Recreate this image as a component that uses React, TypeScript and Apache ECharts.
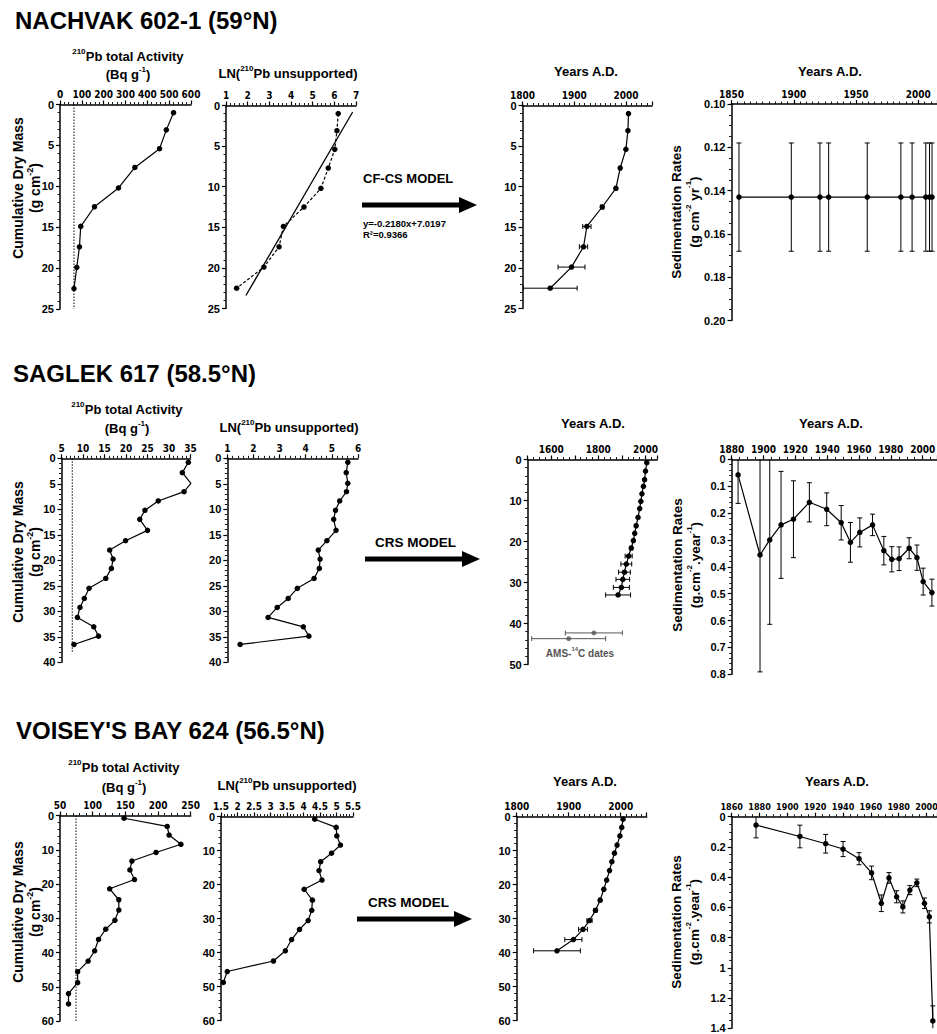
import React, { useEffect, useRef } from "react";
import * as echarts from "echarts";

const FONT = '"Liberation Sans", Arial, Helvetica, sans-serif';
const NARROW = '"Liberation Sans Narrow", "Arial Narrow", "DejaVu Sans Condensed", "Liberation Sans", sans-serif';

// ---------- NACHVAK 602-1 (59°N) ----------
const nachvakDepth = [1.0, 3.1, 5.4, 7.7, 10.2, 12.5, 14.9, 17.4, 19.9, 22.5];
const nachvakActivity = [520, 487, 456, 343, 268, 158, 95, 89, 77, 64];
const nachvakSupported = 64;
const nachvakLn = [6.18, 6.12, 6.02, 5.72, 5.38, 4.6, 3.65, 3.45, 2.75, 1.49];
const nachvakFitSlope = -0.218;
const nachvakFitIntercept = 7.0197;
const nachvakFitDepths = [0.8, 23.4];
const nachvakYears = [2004.6, 2003.5, 1999.6, 1988.6, 1980.3, 1953.9, 1924.3, 1917.8, 1894.6, 1853.5];
const nachvakYearErr = [1, 1, 1, 2, 2, 3, 8, 8, 26, 52];
const nachvakRateYears = [1856, 1898, 1921, 1928, 1959, 1986, 1995, 2006, 2009, 2011];
const nachvakRates = [0.143, 0.143, 0.143, 0.143, 0.143, 0.143, 0.143, 0.143, 0.143, 0.143];
const nachvakRateErr = [0.025, 0.025, 0.025, 0.025, 0.025, 0.025, 0.025, 0.025, 0.025, 0.025];

// ---------- SAGLEK 617 (58.5°N) ----------
const saglekDepth = [0.79, 2.81, 4.91, 6.54, 8.37, 10.2, 11.97, 14.13, 16.16, 17.99, 19.76, 21.59, 23.55, 25.5, 27.48, 29.24, 31.2, 33.04, 34.87, 36.5];
const saglekActivity = [34.5, 33.1, 35.1, 33.5, 27.5, 24.4, 23.2, 25.0, 19.9, 16.2, 17.0, 16.6, 15.3, 11.4, 10.3, 9.3, 8.7, 12.5, 13.6, 7.9];
const saglekSupported = 7.5;
const saglekLn = [5.61, 5.55, 5.61, 5.56, 5.3, 5.14, 5.07, 5.16, 4.81, 4.48, 4.55, 4.52, 4.32, 3.68, 3.33, 2.91, 2.56, 3.91, 4.12, 1.49];
const saglekYears = [2005.8, 2000.3, 1996.4, 1991.5, 1985.2, 1980.6, 1975.6, 1968.5, 1960.5, 1954.6, 1948.8, 1939.7, 1928.8, 1918.8, 1911, 1903.9, 1897.8, 1884];
const saglekYearErr = [1, 1, 1, 1, 1, 2, 2, 2, 3, 3, 4, 6, 15, 23, 25, 29, 34, 53];
const saglekAmsYears = [1781, 1674];
const saglekAmsDepth = [42.3, 43.7];
const saglekAmsErr = [121, 157];
const saglekRateYears = [1884, 1897.8, 1903.9, 1911, 1918.8, 1928.8, 1939.7, 1948.8, 1954.6, 1960.5, 1968.5, 1975.6, 1980.6, 1985.2, 1991.5, 1996.4, 2000.3, 2005.8];
const saglekRates = [0.058, 0.356, 0.3, 0.244, 0.223, 0.16, 0.186, 0.236, 0.309, 0.272, 0.244, 0.34, 0.372, 0.37, 0.331, 0.366, 0.455, 0.496];
const saglekRateErr = [0.106, 0.435, 0.314, 0.199, 0.143, 0.073, 0.061, 0.064, 0.074, 0.054, 0.04, 0.053, 0.047, 0.044, 0.039, 0.047, 0.05, 0.05];

// ---------- VOISEY'S BAY 624 (56.5°N) ----------
const voiseyDepth = [0.8, 3.2, 5.7, 8.4, 10.8, 13.3, 15.9, 18.7, 21.4, 24.6, 27.6, 30.6, 33.2, 36.2, 39.5, 42.5, 45.6, 48.8, 52.0, 55.0];
const voiseyActivity = [148, 214, 217, 235, 197, 160, 157, 164, 126, 140, 140, 134, 120, 109, 103, 93, 77, 77, 63, 63];
const voiseySupported = 74.5;
const voiseyLn = [4.34, 4.99, 5.01, 5.12, 4.85, 4.52, 4.47, 4.56, 4.02, 4.27, 4.25, 4.14, 3.88, 3.64, 3.45, 3.09, 1.69, 1.57];
const voiseyYears = [2004.5, 2002, 1998.5, 1993, 1988, 1983, 1978.5, 1973, 1967.5, 1960.5, 1951.5, 1940, 1927.5, 1909, 1877.5];
const voiseyYearErr = [1, 1, 1, 1, 1, 1, 1, 1, 2, 2, 3, 5, 8.5, 16.5, 45];
const voiseyRateYears = [1877.5, 1909, 1927.5, 1940, 1951.5, 1960.5, 1967.5, 1973, 1978.5, 1983, 1988, 1993, 1998.5, 2002, 2004.5];
const voiseyRates = [0.055, 0.131, 0.179, 0.214, 0.278, 0.372, 0.573, 0.405, 0.53, 0.597, 0.486, 0.438, 0.573, 0.663, 1.352];
const voiseyRateErr = [0.085, 0.075, 0.062, 0.05, 0.04, 0.045, 0.055, 0.035, 0.04, 0.04, 0.03, 0.025, 0.035, 0.04, 0.1];

// ---------- helpers ----------
const zip = (a: number[], b: number[]) => a.map((v, i) => [v, b[i]]);
const zip3 = (a: number[], b: number[], c: number[]) => a.map((v, i) => [v, b[i], c[i]]);
const num = (v: number) => String(Math.round(v * 1000) / 1000);

type AxCfg = { min: number; max: number; interval: number; minor: number; fmt?: (v: number) => string; showMax?: boolean; size?: number };

function makeAxis(gi: number, isX: boolean, c: AxCfg) {
  return {
    type: "value",
    gridIndex: gi,
    position: isX ? "top" : "left",
    inverse: !isX,
    min: c.min,
    max: c.max,
    interval: c.interval,
    axisLine: { show: true, onZero: false, lineStyle: { color: "#000", width: 1.5 } },
    axisTick: { show: true, length: 4, lineStyle: { color: "#000", width: 1.2 } },
    minorTick: { show: true, splitNumber: c.minor, length: 2.5, lineStyle: { color: "#000", width: 0.9 } },
    splitLine: { show: false },
    minorSplitLine: { show: false },
    axisLabel: {
      show: true,
      color: "#000",
      fontFamily: isX ? NARROW : FONT,
      fontWeight: "bold",
      fontSize: c.size || (isX ? 10 : 11),
      margin: isX ? 5 : 6,
      formatter: c.fmt || num,
      showMaxLabel: c.showMax !== false,
      showMinLabel: true,
      hideOverlap: false,
    },
  };
}

function lineSeries(gi: number, data: number[][], extra: any = {}) {
  return {
    type: "line",
    xAxisIndex: gi,
    yAxisIndex: gi,
    data,
    symbol: "circle",
    symbolSize: 5.5,
    itemStyle: { color: "#000" },
    lineStyle: { color: "#000", width: 1.2 },
    silent: true,
    z: 3,
    ...extra,
  };
}

function refLine(gi: number, data: number[][], type: any, width = 1) {
  return {
    type: "line",
    xAxisIndex: gi,
    yAxisIndex: gi,
    data,
    symbol: "none",
    lineStyle: { color: "#000", width, type },
    silent: true,
    z: 2,
  };
}

function errSeries(gi: number, data: number[][], dir: "h" | "v", lo: number, hi: number, color = "#000") {
  return {
    type: "custom",
    xAxisIndex: gi,
    yAxisIndex: gi,
    data,
    dimensions: ["x", "y", "e"],
    encode: { x: 0, y: 1 },
    silent: true,
    z: 2,
    renderItem: (_p: any, api: any) => {
      const x = api.value(0);
      const y = api.value(1);
      const e = api.value(2);
      const cap = 2.5;
      const style = { stroke: color, lineWidth: 1 };
      const ch: any[] = [];
      if (dir === "h") {
        const a = Math.max(x - e, lo);
        const b = Math.min(x + e, hi);
        const p1 = api.coord([a, y]);
        const p2 = api.coord([b, y]);
        ch.push({ type: "line", shape: { x1: p1[0], y1: p1[1], x2: p2[0], y2: p2[1] }, style });
        if (a > lo) ch.push({ type: "line", shape: { x1: p1[0], y1: p1[1] - cap, x2: p1[0], y2: p1[1] + cap }, style });
        if (b < hi) ch.push({ type: "line", shape: { x1: p2[0], y1: p2[1] - cap, x2: p2[0], y2: p2[1] + cap }, style });
      } else {
        const a = Math.max(y - e, lo);
        const b = Math.min(y + e, hi);
        const p1 = api.coord([x, a]);
        const p2 = api.coord([x, b]);
        ch.push({ type: "line", shape: { x1: p1[0], y1: p1[1], x2: p2[0], y2: p2[1] }, style });
        if (a > lo) ch.push({ type: "line", shape: { x1: p1[0] - cap, y1: p1[1], x2: p1[0] + cap, y2: p1[1] }, style });
        if (b < hi) ch.push({ type: "line", shape: { x1: p2[0] - cap, y1: p2[1], x2: p2[0] + cap, y2: p2[1] }, style });
      }
      return { type: "group", children: ch };
    },
  };
}

// ---------- text helpers ----------
const RICH = (size: number, color = "#000") => ({
  n: { fontSize: size, fontWeight: "bold", fontFamily: FONT, lineHeight: size + 5, fill: color, color },
  s: { fontSize: Math.round(size * 0.62), fontWeight: "bold", fontFamily: FONT, lineHeight: Math.round(size * 0.62) + 1, verticalAlign: "top", fill: color, color },
});

function txt(x: number, y: number, text: string, size: number, opts: any = {}) {
  return {
    type: "text",
    x,
    y,
    rotation: opts.rotation || 0,
    silent: true,
    style: {
      text,
      fill: opts.color || "#000",
      fontFamily: FONT,
      fontWeight: "bold",
      fontSize: size,
      align: opts.align || "center",
      verticalAlign: "middle",
      rich: RICH(size, opts.color || "#000"),
    },
  };
}

function arrow(x0: number, x1: number, y: number) {
  return [
    { type: "rect", shape: { x: x0, y: y - 2.5, width: x1 - 18 - x0 + 1, height: 5 }, style: { fill: "#000" }, silent: true },
    { type: "polygon", shape: { points: [[x1 - 18, y - 8], [x1, y], [x1 - 18, y + 8]] }, style: { fill: "#000" }, silent: true },
  ];
}

const ROT = Math.PI / 2;

export default function App() {
  const ref = useRef<HTMLDivElement>(null);
  useEffect(() => {
    if (!ref.current) return;
    const chart = echarts.init(ref.current, null, { renderer: "svg", width: 937, height: 1034 });

    const grids = [
      { left: 60, top: 104.5, width: 131, height: 204.5 },
      { left: 226, top: 105.5, width: 130, height: 203 },
      { left: 522.5, top: 105.5, width: 129.5, height: 203 },
      { left: 731.5, top: 104, width: 205.5, height: 216.5 },
      { left: 61.5, top: 458.3, width: 129, height: 204 },
      { left: 227.3, top: 458.3, width: 130.7, height: 204 },
      { left: 527.7, top: 459.5, width: 129.5, height: 205 },
      { left: 731.7, top: 459.3, width: 205.3, height: 215 },
      { left: 60, top: 815.5, width: 130.7, height: 205.5 },
      { left: 221, top: 816.5, width: 132, height: 204 },
      { left: 516.7, top: 816.5, width: 130, height: 204 },
      { left: 731.7, top: 816.7, width: 205.3, height: 211.5 },
    ].map((g) => ({ ...g, containLabel: false, outerBoundsMode: "none", show: false }));

    const yr = (v: number) => String(Math.round(v));
    const xCfg: AxCfg[] = [
      { min: 0, max: 600, interval: 100, minor: 5 },
      { min: 1, max: 7, interval: 1, minor: 5 },
      { min: 1800, max: 2050, interval: 100, minor: 10, fmt: yr, showMax: false },
      { min: 1850, max: 2015, interval: 50, minor: 10, fmt: yr, showMax: false },
      { min: 5, max: 35, interval: 5, minor: 5 },
      { min: 1, max: 6, interval: 1, minor: 5 },
      { min: 1500, max: 2050, interval: 100, minor: 4, fmt: (v) => (Math.round(v) % 200 === 0 ? String(Math.round(v)) : ""), showMax: false },
      { min: 1880, max: 2009, interval: 20, minor: 4, fmt: yr, showMax: false },
      { min: 50, max: 250, interval: 50, minor: 5 },
      { min: 1.5, max: 5.5, interval: 0.5, minor: 5 },
      { min: 1800, max: 2050, interval: 100, minor: 10, fmt: yr, showMax: false },
      { min: 1860, max: 2007.5, interval: 20, minor: 4, fmt: yr, showMax: false, size: 9 },
    ];
    const yCfg: AxCfg[] = [
      { min: 0, max: 25, interval: 5, minor: 5 },
      { min: 0, max: 25, interval: 5, minor: 5 },
      { min: 0, max: 25, interval: 5, minor: 5 },
      { min: 0.1, max: 0.2, interval: 0.02, minor: 4, fmt: (v) => v.toFixed(2) },
      { min: 0, max: 40, interval: 5, minor: 5 },
      { min: 0, max: 40, interval: 5, minor: 5 },
      { min: 0, max: 50, interval: 10, minor: 5 },
      { min: 0, max: 0.8, interval: 0.1, minor: 5 },
      { min: 0, max: 60, interval: 10, minor: 5 },
      { min: 0, max: 60, interval: 10, minor: 5 },
      { min: 0, max: 60, interval: 10, minor: 5 },
      { min: 0, max: 1.4, interval: 0.2, minor: 4 },
    ];

    const fitData = nachvakFitDepths.map((d) => [nachvakFitIntercept + nachvakFitSlope * d, d]);

    const series: any[] = [
      // Row 1
      refLine(0, [[nachvakSupported, 0], [nachvakSupported, 25]], [1.5, 1.5]),
      lineSeries(0, zip(nachvakActivity, nachvakDepth)),
      lineSeries(1, zip(nachvakLn, nachvakDepth), { lineStyle: { color: "#000", width: 1.2, type: [3, 2] } }),
      refLine(1, fitData, "solid", 1.3),
      errSeries(2, zip3(nachvakYears, nachvakDepth, nachvakYearErr), "h", 1800, 2050),
      lineSeries(2, zip(nachvakYears, nachvakDepth)),
      errSeries(3, zip3(nachvakRateYears, nachvakRates, nachvakRateErr), "v", 0.1, 0.2),
      lineSeries(3, zip(nachvakRateYears, nachvakRates)),
      // Row 2
      refLine(4, [[saglekSupported, 0], [saglekSupported, 38]], [1.5, 1.5]),
      lineSeries(4, zip(saglekActivity, saglekDepth)),
      lineSeries(5, zip(saglekLn, saglekDepth)),
      errSeries(6, zip3(saglekYears, saglekDepth, saglekYearErr), "h", 1500, 2050),
      lineSeries(6, zip(saglekYears, saglekDepth)),
      errSeries(6, zip3(saglekAmsYears, saglekAmsDepth, saglekAmsErr), "h", 1500, 2050, "#555"),
      {
        type: "scatter",
        xAxisIndex: 6,
        yAxisIndex: 6,
        data: zip(saglekAmsYears, saglekAmsDepth),
        symbol: "circle",
        symbolSize: 5,
        itemStyle: { color: "#555" },
        silent: true,
        z: 3,
      },
      errSeries(7, zip3(saglekRateYears, saglekRates, saglekRateErr), "v", 0, 0.8),
      lineSeries(7, zip(saglekRateYears, saglekRates)),
      // Row 3
      refLine(8, [[voiseySupported, 0], [voiseySupported, 60]], [1.5, 1.5]),
      lineSeries(8, zip(voiseyActivity, voiseyDepth)),
      lineSeries(9, zip(voiseyLn, voiseyDepth)),
      errSeries(10, zip3(voiseyYears, voiseyDepth, voiseyYearErr), "h", 1800, 2050),
      lineSeries(10, zip(voiseyYears, voiseyDepth)),
      errSeries(11, zip3(voiseyRateYears, voiseyRates, voiseyRateErr), "v", 0, 1.4),
      lineSeries(11, zip(voiseyRateYears, voiseyRates)),
    ];

    const graphics: any[] = [
      // Row 1
      txt(15, 20, "NACHVAK 602-1 (59°N)", 24, { align: "left" }),
      txt(128, 56, "{s|210}{n|Pb total Activity}", 13),
      txt(128, 74, "{n|(Bq g}{s|-1}{n|)}", 13),
      txt(288, 73, "{n|LN(}{s|210}{n|Pb unsupported)}", 13),
      txt(586, 71, "Years A.D.", 13),
      txt(830, 71, "Years A.D.", 13),
      txt(363, 178, "CF-CS MODEL", 13, { align: "left" }),
      ...arrow(362, 477, 205),
      txt(363, 223, "y=-0.2180x+7.0197", 9.5, { align: "left" }),
      txt(363, 234.5, "R²=0.9366", 9.5, { align: "left" }),
      txt(18, 188, "Cumulative Dry Mass", 14, { rotation: ROT }),
      txt(35, 188, "{n|(g cm}{s|-2}{n|)}", 14, { rotation: ROT }),
      txt(676, 212, "Sedimentation Rates", 13.5, { rotation: ROT }),
      txt(694, 212, "{n|(g cm}{s|-2}{n| yr}{s|-1}{n|)}", 13.5, { rotation: ROT }),
      // Row 2
      txt(13, 373, "SAGLEK 617 (58.5°N)", 24, { align: "left" }),
      txt(127, 409, "{s|210}{n|Pb total Activity}", 13),
      txt(127, 428, "{n|(Bq g}{s|-1}{n|)}", 13),
      txt(289, 427.5, "{n|LN(}{s|210}{n|Pb unsupported)}", 13),
      txt(593, 423, "Years A.D.", 13),
      txt(831, 423, "Years A.D.", 13),
      txt(375, 542, "CRS MODEL", 13.5, { align: "left" }),
      ...arrow(365, 480, 559),
      txt(580, 653, "{n|AMS-}{s|14}{n|C dates}", 10, { color: "#555" }),
      txt(18, 552, "Cumulative Dry Mass", 14, { rotation: ROT }),
      txt(35, 552, "{n|(g cm}{s|-2}{n|)}", 14, { rotation: ROT }),
      txt(677, 565, "Sedimentation Rates", 13.5, { rotation: ROT }),
      txt(695, 565, "{n|(g.cm}{s|-2}{n|.year}{s|-1}{n|)}", 13.5, { rotation: ROT }),
      // Row 3
      txt(16, 730, "VOISEY'S BAY 624 (56.5°N)", 24, { align: "left" }),
      txt(124, 767, "{s|210}{n|Pb total Activity}", 13),
      txt(124, 787, "{n|(Bq g}{s|-1}{n|)}", 13),
      txt(287, 785, "{n|LN(}{s|210}{n|Pb unsupported)}", 13),
      txt(585, 781, "Years A.D.", 13),
      txt(837, 781, "Years A.D.", 13),
      txt(368, 902, "CRS MODEL", 13.5, { align: "left" }),
      ...arrow(357, 472, 919),
      txt(18, 912, "Cumulative Dry Mass", 14, { rotation: ROT }),
      txt(35, 912, "{n|(g cm}{s|-2}{n|)}", 14, { rotation: ROT }),
      txt(676, 922, "Sedimentation Rates", 13.5, { rotation: ROT }),
      txt(694, 922, "{n|(g.cm}{s|-2}{n|.year}{s|-1}{n|)}", 13.5, { rotation: ROT }),
    ];

    chart.setOption({
      animation: false,
      backgroundColor: "#fff",
      grid: grids,
      xAxis: xCfg.map((c, i) => makeAxis(i, true, c)),
      yAxis: yCfg.map((c, i) => makeAxis(i, false, c)),
      series,
      graphic: { elements: graphics },
    });
    return () => chart.dispose();
  }, []);
  return (
    <div
      ref={ref}
      style={{ position: "absolute", left: 0, top: 0, width: 937, height: 1034, background: "#fff" }}
    />
  );
}
